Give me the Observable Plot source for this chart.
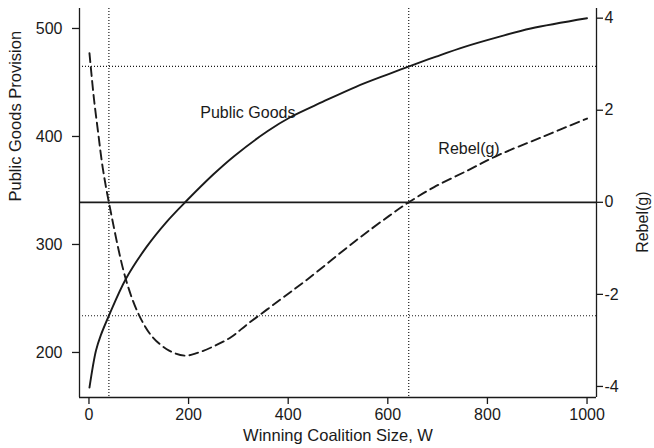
<!DOCTYPE html>
<html><head><meta charset="utf-8">
<script src="https://cdn.jsdelivr.net/npm/d3@7"></script>
<script src="https://cdn.jsdelivr.net/npm/@observablehq/plot@0.6"></script>
<style>body{margin:0;background:#fff} svg{display:block}</style>
</head><body><div id="chart"></div>
<script>
// Public goods provision (left axis) vs winning coalition size W
const pgW = [1, 14, 23.5, 40, 74, 116, 156, 195, 250, 292, 359, 405, 469, 536, 603, 643, 697, 754, 821, 887, 1000];
const pgV = [167.5, 201.6, 215.6, 234, 268, 298, 321, 340, 365, 382, 405, 418, 432, 446, 458, 465, 474, 483, 492, 500, 509.5];
// Rebel(g) (right axis) vs W
const rebW = [1, 4, 10, 18.7, 27.5, 40, 74, 101, 128, 161, 193, 218, 252, 285, 319, 386, 439, 535, 602, 642, 693, 760, 821, 908, 1000];
const rebV = [3.24, 2.90, 2.25, 1.49, 0.76, 0, -1.67, -2.46, -2.93, -3.22, -3.33, -3.27, -3.12, -2.93, -2.64, -2.10, -1.67, -0.84, -0.30, 0, 0.33, 0.69, 1.02, 1.41, 1.82];
const xTicks = [0, 200, 400, 600, 800, 1000];
const pgTicks = [200, 300, 400, 500];
const rebTicks = [-4, -2, 0, 2, 4];
const thresholdW = [40, 642];
const thresholdPG = [234, 465];
const rebZero = [0];
const pgLabel = [{text: "Public Goods", W: 319, v: 421.4}];
const rebLabel = [{text: "Rebel(g)", W: 763, v: 1.17}];

const xDomain = [-19, 1019];
const pgDomain = [158.3, 518.5];
const rebDomain = [-4.24, 4.21];
const toPG = d3.scaleLinear(rebDomain, pgDomain);

const pgData = pgW.map((w, i) => ({W: w, v: pgV[i]}));
const rebData = rebW.map((w, i) => ({W: w, v: toPG(rebV[i])}));

const ink = "#1a1a1a";
const font = "Liberation Sans, Arial, Helvetica, sans-serif";

const chart = Plot.plot({
  width: 654, height: 448,
  marginLeft: 79, marginRight: 58, marginTop: 8, marginBottom: 51,
  style: {fontFamily: font, fontSize: "16px", color: ink, background: "#fff"},
  x: {domain: xDomain, axis: null},
  y: {domain: pgDomain, axis: null},
  marks: [
    Plot.ruleX(thresholdW, {stroke: ink, strokeWidth: 1.2, strokeDasharray: "1,2"}),
    Plot.ruleY(thresholdPG, {stroke: ink, strokeWidth: 1.2, strokeDasharray: "1,2"}),
    Plot.ruleY(rebZero.map(toPG), {stroke: ink, strokeWidth: 1.8}),
    Plot.line(pgData, {x: "W", y: "v", curve: "catmull-rom", stroke: ink, strokeWidth: 1.9}),
    Plot.line(rebData, {x: "W", y: "v", curve: "catmull-rom", stroke: ink, strokeWidth: 1.9, strokeDasharray: "9,5"}),
    Plot.text(pgLabel, {x: "W", y: "v", text: "text", fontSize: 16, fill: ink}),
    Plot.text(rebLabel, {x: "W", y: d => toPG(d.v), text: "text", fontSize: 16, fill: ink}),
    // frame: left, bottom, right
    Plot.ruleX([xDomain[0], xDomain[1]], {stroke: ink, strokeWidth: 1.3}),
    Plot.ruleY([pgDomain[0]], {stroke: ink, strokeWidth: 1.3}),
    Plot.axisX(xTicks, {anchor: "bottom", tickSize: 7, tickPadding: 4, fontSize: 16, label: null, stroke: ink, strokeWidth: 1.3, fill: ink,
      tickFormat: d => String(d)}),
    Plot.axisY(pgTicks, {anchor: "left", tickSize: 7, tickPadding: 10, fontSize: 16, label: null, stroke: ink, strokeWidth: 1.3, fill: ink,
      tickFormat: d => String(d)}),
    Plot.axisY(rebTicks.map(toPG), {anchor: "right", tickSize: 6, tickPadding: 2, fontSize: 16, label: null, stroke: ink, strokeWidth: 1.3, fill: ink,
      tickFormat: d => String(Math.round(toPG.invert(d)))}),
    Plot.text(["Winning Coalition Size, W"], {text: d => d, frameAnchor: "bottom", dy: 43, fontSize: 16.5, fill: ink}),
    Plot.text(["Public Goods Provision"], {text: d => d, frameAnchor: "left", dx: -63.5, dy: -1.5, rotate: -90, fontSize: 16.5, fill: ink}),
    Plot.text(["Rebel(g)"], {text: d => d, frameAnchor: "right", dx: 46, dy: -11.5, rotate: -90, fontSize: 16, fill: ink})
  ]
});
document.getElementById("chart").appendChild(chart);
</script>
</body></html>
